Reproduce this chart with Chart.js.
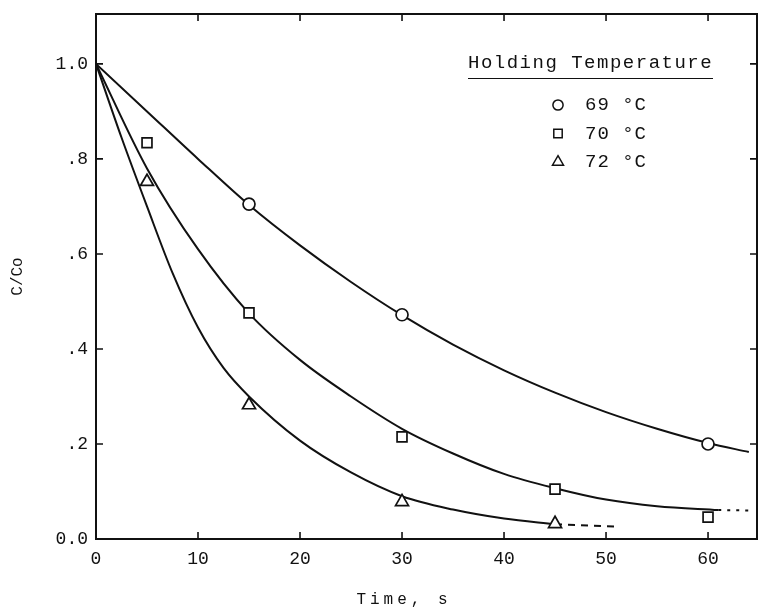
<!DOCTYPE html>
<html><head><meta charset="utf-8">
<script src="https://cdn.jsdelivr.net/npm/chart.js@4/dist/chart.umd.min.js"></script>
<style>html,body{margin:0;padding:0;background:#fff}#wrap{width:758px;height:612px;position:relative}</style>
</head><body><div id="wrap"><canvas id="c"></canvas></div>
<script>
// ---- data ----
const legendTitle = 'Holding Temperature';
const seriesNames = ['69 °C', '70 °C', '72 °C'];
const xTitle = 'Time, s';
const yTitle = 'C/Co';
const yTickLabels = ['0.0', '.2', '.4', '.6', '.8', '1.0'];

// measured points
const t69 = [15, 30, 60];
const c69 = [0.705, 0.472, 0.200];
const t70 = [5, 15, 30, 45, 60];
const c70 = [0.834, 0.476, 0.215, 0.105, 0.046];
const t72 = [5, 15, 30, 45];
const c72 = [0.752, 0.282, 0.078, 0.032];

// fitted curves
const fitT69 = [0, 5, 10, 15, 20, 25, 30, 35, 40, 45, 50, 55, 60, 64];
const fitC69 = [1.0, 0.90, 0.80, 0.703, 0.618, 0.541, 0.471, 0.409, 0.355, 0.308, 0.267, 0.232, 0.202, 0.183];
const fitT70 = [0, 5, 10, 15, 20, 25, 30, 35, 40, 45, 50, 55, 61];
const fitC70 = [1.0, 0.78, 0.61, 0.475, 0.377, 0.30, 0.232, 0.18, 0.137, 0.107, 0.083, 0.069, 0.061];
const fitT72 = [0, 2.5, 5, 7.5, 10, 12.5, 15, 20, 25, 30, 35, 40, 45];
const fitC72 = [1.0, 0.845, 0.70, 0.56, 0.445, 0.36, 0.30, 0.207, 0.14, 0.09, 0.062, 0.043, 0.031];
// extrapolated segments
const extT70 = [61, 64.5];
const extC70 = [0.061, 0.060];
const extT72 = [45, 51];
const extC72 = [0.031, 0.026];

const pts = (t, c) => t.map((x, i) => ({x: x, y: c[i]}));
const INK = '#111';
const MONO = '"Liberation Mono", "DejaVu Sans Mono", monospace';

const markerBase = {showLine: false, backgroundColor: '#fff', borderColor: INK, borderWidth: 1.7};
const lineBase = {showLine: true, pointRadius: 0, borderColor: INK, borderWidth: 2, fill: false, cubicInterpolationMode: 'monotone'};

const datasets = [
  Object.assign({label: seriesNames[0], data: pts(t69, c69), pointStyle: 'circle', pointRadius: 6}, markerBase),
  Object.assign({label: seriesNames[1], data: pts(t70, c70), pointStyle: 'rect', pointRadius: 7}, markerBase),
  Object.assign({label: seriesNames[2], data: pts(t72, c72), pointStyle: 'triangle', pointRadius: 7.5}, markerBase),
  Object.assign({label: 'fit 69', data: pts(fitT69, fitC69)}, lineBase),
  Object.assign({label: 'fit 70', data: pts(fitT70, fitC70)}, lineBase),
  Object.assign({label: 'fit 72', data: pts(fitT72, fitC72)}, lineBase),
  Object.assign({label: 'ext 70', data: pts(extT70, extC70), borderDash: [3, 6], borderWidth: 2}, lineBase),
  Object.assign({label: 'ext 72', data: pts(extT72, extC72), borderDash: [7, 6], borderWidth: 1.6}, lineBase)
];

const framePlugin = {
  id: 'frame',
  afterDraw(chart) {
    const {ctx, chartArea: a, scales: {x, y}} = chart;
    ctx.save();
    ctx.strokeStyle = INK;
    ctx.lineWidth = 2;
    ctx.strokeRect(a.left, a.top, a.right - a.left, a.bottom - a.top);
    ctx.lineWidth = 1.6;
    const L = 7;
    ctx.beginPath();
    x.ticks.forEach(t => {
      const px = x.getPixelForValue(t.value);
      if (Math.abs(px - a.left) < 2) return;
      ctx.moveTo(px, a.bottom); ctx.lineTo(px, a.bottom - L);
      ctx.moveTo(px, a.top); ctx.lineTo(px, a.top + L);
    });
    y.ticks.forEach(t => {
      const py = y.getPixelForValue(t.value);
      if (Math.abs(py - a.bottom) < 2) return;
      ctx.moveTo(a.left, py); ctx.lineTo(a.left + L, py);
      ctx.moveTo(a.right, py); ctx.lineTo(a.right - L, py);
    });
    ctx.stroke();

    // legend
    ctx.fillStyle = INK;
    ctx.textBaseline = 'middle';
    ctx.textAlign = 'left';
    ctx.font = '19px ' + MONO;
    ctx.letterSpacing = '1.5px';
    ctx.fillText(legendTitle, 468, 63);
    ctx.lineWidth = 1.2;
    ctx.beginPath(); ctx.moveTo(468, 78.5); ctx.lineTo(713, 78.5); ctx.stroke();
    ctx.letterSpacing = '1px';
    for (let i = 0; i < 3; i++) {
      const ds = chart.data.datasets[i];
      const yy = 105 + i * 28.5;
      ctx.lineWidth = 1.5;
      ctx.strokeStyle = INK;
      ctx.fillStyle = '#fff';
      Chart.helpers.drawPoint(ctx, {pointStyle: ds.pointStyle, radius: ds.pointRadius * 0.85, borderWidth: 1.5}, 558, yy);
      ctx.fillStyle = INK;
      ctx.fillText(ds.label, 585, yy);
    }
    // x axis title
    ctx.font = '16px ' + MONO;
    ctx.letterSpacing = '4px';
    ctx.textAlign = 'center';
    ctx.fillText(xTitle, 404, 600);
    ctx.letterSpacing = '0px';
    ctx.restore();
  }
};

new Chart(document.getElementById('c'), {
  type: 'scatter',
  data: {datasets: datasets},
  options: {
    responsive: true,
    maintainAspectRatio: false,
    devicePixelRatio: 1,
    animation: false,
    layout: {autoPadding: false, padding: {top: 14, right: 1, left: 0, bottom: 0}},
    plugins: {legend: {display: false}, tooltip: {enabled: false}},
    scales: {
      x: {
        type: 'linear', min: 0, max: 64.8,
        grid: {display: false, drawTicks: false},
        border: {display: false},
        ticks: {stepSize: 10, includeBounds: false, color: INK, padding: 9,
                font: {family: MONO, size: 18}},
        afterFit: s => { s.height = 73; s.paddingLeft = 0; s.paddingRight = 0; }
      },
      y: {
        type: 'linear', min: 0, max: 1.105,
        grid: {display: false, drawTicks: false},
        border: {display: false},
        ticks: {stepSize: 0.2, includeBounds: false, color: INK, padding: 8,
                font: {family: MONO, size: 18},
                callback: (v, i) => yTickLabels[i]},
        title: {display: true, text: yTitle, color: INK, font: {family: MONO, size: 16}, padding: {top: 8, bottom: 0}},
        afterFit: s => { s.width = 96; s.paddingTop = 0; s.paddingBottom = 0; }
      }
    }
  },
  plugins: [framePlugin]
});
</script>
</body></html>
